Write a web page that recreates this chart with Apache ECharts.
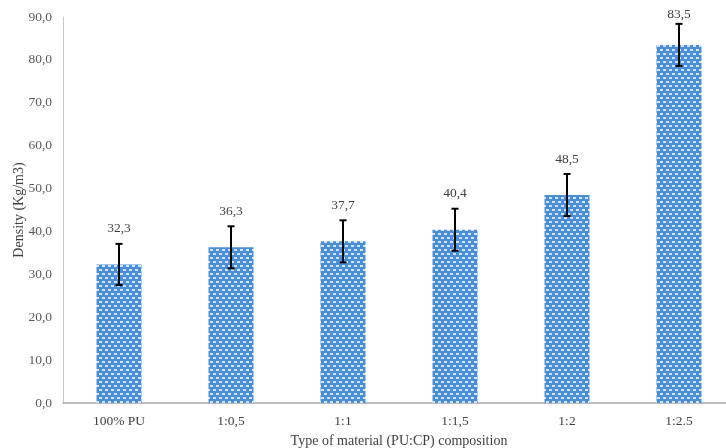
<!DOCTYPE html>
<html>
<head>
<meta charset="utf-8">
<script src="https://cdn.jsdelivr.net/npm/echarts@6/dist/echarts.min.js"></script>
<style>
  html, body { margin: 0; padding: 0; background: #ffffff; }
  #chart { width: 726px; height: 448px; }
</style>
</head>
<body>
<div id="chart"></div>
<script>
// Density of foam samples by PU:CP composition
const categories = ['100% PU', '1:0,5', '1:1', '1:1,5', '1:2', '1:2.5'];
const densities = [32.3, 36.3, 37.7, 40.4, 48.5, 83.5];
const errors = [4.8, 4.9, 4.9, 4.9, 4.9, 4.9];
const yTicks = { min: 0, max: 90, interval: 10 };

const fmt = v => v.toFixed(1).replace('.', ',');

// small dotted texture for the bars
function makePattern() {
  const c = document.createElement('canvas');
  c.width = 6; c.height = 8;
  const g = c.getContext('2d');
  g.fillStyle = '#4a8fd6';
  g.fillRect(0, 0, 6, 8);
  g.fillStyle = '#cfe4f8';
  g.fillRect(0, 1, 3, 2);
  g.fillRect(3, 5, 3, 2);
  return c;
}

const chart = echarts.init(document.getElementById('chart'), null, { renderer: 'canvas' });

const serif = 'Liberation Serif, Times New Roman, serif';

chart.setOption({
  animation: false,
  backgroundColor: '#ffffff',
  grid: { left: 63, top: 17, width: 672, bottom: 45, containLabel: false, outerBoundsMode: 'none' },
  xAxis: {
    type: 'category',
    data: categories,
    axisLine: { show: true, lineStyle: { color: '#a6a6a6', width: 1.5 } },
    axisTick: { show: false },
    axisLabel: { color: '#404040', fontFamily: serif, fontSize: 13.5, margin: 11 },
    name: 'Type of material (PU:CP) composition',
    nameLocation: 'middle',
    nameGap: 31,
    nameMoveOverlap: false,
    nameTextStyle: { color: '#404040', fontFamily: serif, fontSize: 14 }
  },
  yAxis: {
    type: 'value',
    min: yTicks.min, max: yTicks.max, interval: yTicks.interval,
    axisLine: { show: true, lineStyle: { color: '#c8c8c8', width: 1 } },
    axisTick: { show: false },
    splitLine: { show: false },
    axisLabel: { color: '#595959', fontFamily: serif, fontSize: 13.5, margin: 11, formatter: fmt },
    name: 'Density (Kg/m3)',
    nameLocation: 'middle',
    nameGap: 37,
    nameMoveOverlap: false,
    nameTextStyle: { color: '#404040', fontFamily: serif, fontSize: 14 }
  },
  series: [
    {
      type: 'bar',
      data: densities,
      barWidth: 45,
      itemStyle: { color: { image: makePattern(), repeat: 'repeat' } }
    },
    {
      type: 'custom',
      data: densities.map((v, i) => [i, v, errors[i]]),
      z: 10,
      renderItem: function (params, api) {
        const x = api.value(0), v = api.value(1), e = api.value(2);
        const top = api.coord([x, v + e]);
        const bot = api.coord([x, v - e]);
        const cap = 3.5;
        const st = { stroke: '#000000', lineWidth: 2 };
        // keep the label inside the canvas when the bar is near the top
        const gap = top[1] < 40 ? 2 : 8;
        return {
          type: 'group',
          children: [
            { type: 'line', shape: { x1: top[0], y1: top[1], x2: bot[0], y2: bot[1] }, style: st },
            { type: 'line', shape: { x1: top[0] - cap, y1: top[1], x2: top[0] + cap, y2: top[1] }, style: st },
            { type: 'line', shape: { x1: bot[0] - cap, y1: bot[1], x2: bot[0] + cap, y2: bot[1] }, style: st },
            {
              type: 'text',
              style: {
                x: top[0], y: top[1] - gap,
                text: fmt(v),
                textAlign: 'center', textVerticalAlign: 'bottom',
                fill: '#404040', font: '13.5px ' + serif
              }
            }
          ]
        };
      }
    }
  ]
});
</script>
</body>
</html>
